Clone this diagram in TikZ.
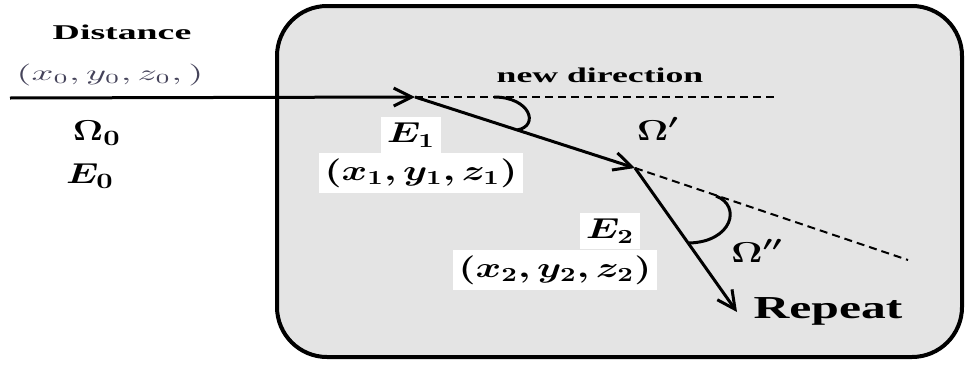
\documentclass[tikz,border=0pt]{standalone}
\usepackage{amsmath}
\usepackage{bm}
\usepackage{graphicx}
\usepackage{fontspec}
\setmainfont{Liberation Serif}
\usetikzlibrary{arrows.meta}
\definecolor{boxfill}{HTML}{E4E4E4}
\definecolor{startpt}{HTML}{45435A}
\newcommand{\xwide}[2][1.6]{\scalebox{#1}[1]{#2}}

\begin{document}
\begin{tikzpicture}[x=0.5pt, y=-0.5pt,
  every node/.style={inner sep=1pt},
  lbl/.style={font=\bfseries\fontsize{10.5}{12}\selectfont},
  sym/.style={font=\fontsize{14}{16}\selectfont},
  tag/.style={sym, fill=white, inner sep=3pt},
  ray/.style={-{Straight Barb[length=9pt,width=9pt]}, line width=1.5pt},
  guide/.style={line width=1pt, dash pattern=on 4pt off 2.5pt},
  hook/.style={line width=1.5pt},
]
  \useasboundingbox (0,0) rectangle (967,364);

  % medium
  \draw[line width=2pt, fill=boxfill, rounded corners=25pt] (277,6) rectangle (962,357);

  \coordinate (start) at (10,98);
  \coordinate (p1) at (415,97);
  \coordinate (p2) at (635,168);
  \coordinate (p3) at (737,312);
  \coordinate (d1) at (775,97);
  \coordinate (d2) at (908,260);

  \draw[ray]   (start) -- (p1);
  \draw[guide] (p1) -- (d1);
  \draw[ray]   (p1) -- (p2);
  \draw[guide] (p2) -- (d2);
  \draw[ray]   (p2) -- (p3);

  % scattering angles
  \draw[hook] (494,97) .. controls (530,97) and (540,126) .. (517,130);
  \draw[hook] (716,196) .. controls (742,206) and (732,242) .. (689,243);

  \node[lbl] (dist) at (122,32) {\xwide[1.8]{Distance}};
  \node[sym, text=startpt, font=\fontsize{10.5}{12}\selectfont] (pos0) at (110,75)
    {\xwide[1.75]{$(x_0,y_0,z_0,)$}};
  \node[sym, font=\fontsize{15.5}{18}\selectfont] (om0) at (97,133) {\xwide[1.3]{$\boldsymbol{\Omega_0}$}};
  \node[sym, font=\fontsize{15.5}{18}\selectfont] (en0) at (90,176) {\xwide[1.3]{$\boldsymbol{E_0}$}};

  \node[lbl] (newdir) at (600,75) {\xwide[1.7]{new direction}};

  \node[tag] (en1) at (411,135) {\xwide[1.35]{$\boldsymbol{E_1}$}};
  \node[tag] (pos1) at (421,173) {\xwide[1.35]{$\boldsymbol{(x_1,y_1,z_1)}$}};
  \node[sym] (om1) at (658,129) {\xwide[1.35]{$\boldsymbol{\Omega'}$}};

  \node[tag] (en2) at (610,231) {\xwide[1.35]{$\boldsymbol{E_2}$}};
  \node[tag] (pos2) at (555,270) {\xwide[1.35]{$\boldsymbol{(x_2,y_2,z_2)}$}};
  \node[sym] (om2) at (757,251) {\xwide[1.35]{$\boldsymbol{\Omega''}$}};

  \node[lbl, font=\bfseries\fontsize{16}{18}\selectfont] (rep) at (828,311) {\xwide[1.55]{Repeat}};
\end{tikzpicture}
\end{document}
